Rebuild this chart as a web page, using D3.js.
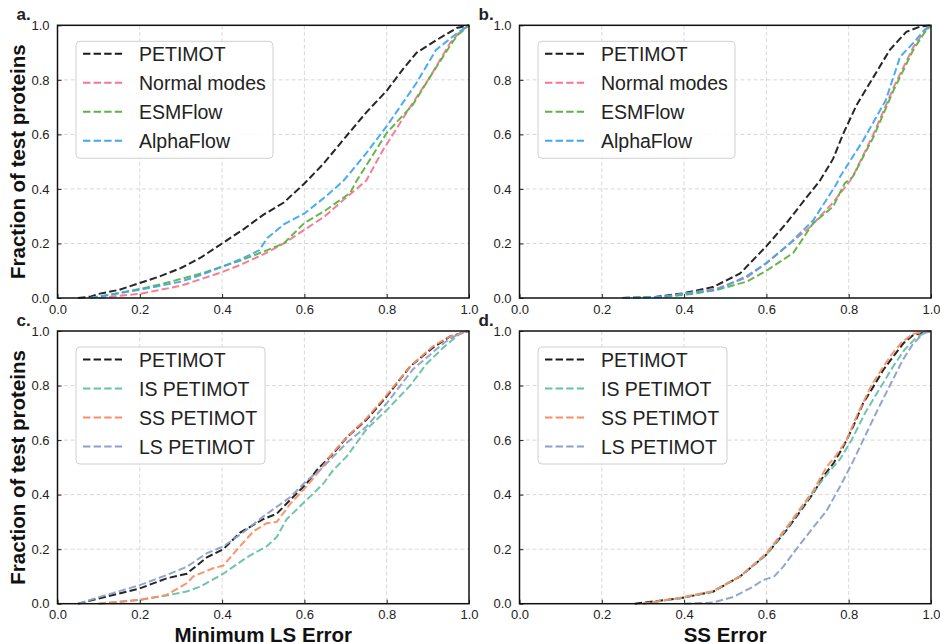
<!DOCTYPE html>
<html>
<head>
<meta charset="utf-8">
<script src="https://cdn.jsdelivr.net/npm/d3@7"></script>
<style>
  body { margin: 0; background: #fff; }
  svg { font-family: "Liberation Sans", Arial, sans-serif; }
</style>
</head>
<body>
<svg id="chart" width="940" height="642"></svg>
<script>
// cumulative curves: [error, fraction]
var petimotA = [[0.05,0],[0.08,0.005],[0.1,0.015],[0.15,0.03],[0.2,0.055],[0.25,0.08],[0.3,0.11],[0.35,0.15],[0.4,0.2],[0.45,0.25],[0.5,0.305],[0.55,0.35],[0.6,0.42],[0.645,0.49],[0.7,0.59],[0.75,0.68],[0.8,0.76],[0.84,0.84],[0.873,0.9],[0.92,0.945],[0.97,0.99],[1.0,1.0]];
var normalA = [[0.1,0],[0.15,0.008],[0.2,0.015],[0.25,0.03],[0.3,0.045],[0.35,0.07],[0.4,0.095],[0.45,0.125],[0.5,0.16],[0.55,0.2],[0.6,0.25],[0.65,0.3],[0.695,0.36],[0.75,0.43],[0.79,0.54],[0.857,0.7],[0.905,0.81],[0.954,0.935],[0.98,0.98],[1.0,1.0]];
var esmA = [[0.08,0],[0.12,0.01],[0.2,0.033],[0.25,0.05],[0.3,0.07],[0.35,0.09],[0.4,0.115],[0.45,0.14],[0.5,0.17],[0.55,0.2],[0.6,0.275],[0.65,0.32],[0.711,0.385],[0.727,0.43],[0.8,0.605],[0.864,0.71],[0.905,0.81],[0.954,0.925],[0.97,0.96],[1.0,1.0]];
var alphaA = [[0.08,0],[0.12,0.01],[0.2,0.03],[0.25,0.045],[0.3,0.06],[0.35,0.085],[0.4,0.115],[0.45,0.145],[0.49,0.175],[0.51,0.22],[0.55,0.27],[0.6,0.31],[0.65,0.37],[0.695,0.43],[0.75,0.53],[0.8,0.63],[0.873,0.79],[0.92,0.91],[0.97,0.97],[1.0,1.0]];

var petimotB = [[0.25,0],[0.33,0.004],[0.397,0.017],[0.47,0.04],[0.536,0.09],[0.6,0.19],[0.649,0.275],[0.698,0.37],[0.73,0.43],[0.762,0.51],[0.786,0.6],[0.82,0.71],[0.86,0.81],[0.9,0.91],[0.94,0.976],[0.973,0.995],[1.0,1.0]];
var normalB = [[0.25,0],[0.35,0.005],[0.42,0.02],[0.48,0.035],[0.552,0.075],[0.6,0.128],[0.649,0.19],[0.706,0.26],[0.762,0.35],[0.803,0.43],[0.81,0.445],[0.86,0.6],[0.91,0.775],[0.957,0.92],[0.985,0.98],[1.0,1.0]];
var esmB = [[0.25,0],[0.35,0.004],[0.42,0.015],[0.48,0.03],[0.552,0.06],[0.6,0.1],[0.665,0.165],[0.714,0.275],[0.762,0.335],[0.79,0.42],[0.81,0.445],[0.86,0.59],[0.91,0.765],[0.957,0.91],[0.985,0.975],[1.0,1.0]];
var alphaB = [[0.25,0],[0.35,0.005],[0.42,0.02],[0.48,0.03],[0.552,0.08],[0.6,0.128],[0.657,0.2],[0.714,0.285],[0.771,0.42],[0.779,0.445],[0.836,0.58],[0.89,0.725],[0.925,0.885],[0.957,0.935],[0.985,0.985],[1.0,1.0]];

var petimotC = [[0.05,0],[0.103,0.02],[0.2,0.056],[0.265,0.093],[0.314,0.11],[0.363,0.17],[0.403,0.2],[0.443,0.26],[0.5,0.31],[0.533,0.33],[0.565,0.38],[0.605,0.44],[0.63,0.49],[0.67,0.55],[0.703,0.61],[0.751,0.675],[0.8,0.76],[0.857,0.87],[0.913,0.94],[0.954,0.98],[1.0,1.0]];
var isC = [[0.1,0],[0.2,0.014],[0.265,0.03],[0.314,0.045],[0.346,0.062],[0.403,0.11],[0.46,0.17],[0.508,0.21],[0.533,0.245],[0.557,0.31],[0.605,0.38],[0.646,0.44],[0.67,0.49],[0.703,0.54],[0.751,0.64],[0.8,0.71],[0.857,0.8],[0.897,0.88],[0.938,0.94],[0.978,0.99],[1.0,1.0]];
var ssC = [[0.1,0],[0.2,0.014],[0.265,0.032],[0.314,0.075],[0.33,0.1],[0.378,0.13],[0.403,0.14],[0.443,0.21],[0.476,0.265],[0.508,0.295],[0.533,0.3],[0.565,0.365],[0.605,0.43],[0.638,0.49],[0.67,0.555],[0.703,0.61],[0.751,0.68],[0.8,0.765],[0.857,0.87],[0.913,0.945],[0.954,0.98],[1.0,1.0]];
var lsC = [[0.05,0],[0.103,0.025],[0.2,0.068],[0.265,0.105],[0.314,0.135],[0.363,0.185],[0.403,0.21],[0.45,0.26],[0.5,0.32],[0.565,0.39],[0.605,0.45],[0.638,0.49],[0.703,0.59],[0.751,0.65],[0.8,0.735],[0.864,0.86],[0.938,0.955],[0.98,0.995],[1.0,1.0]];

var petimotD = [[0.28,0],[0.39,0.02],[0.47,0.044],[0.536,0.1],[0.6,0.18],[0.649,0.27],[0.69,0.355],[0.714,0.405],[0.738,0.466],[0.763,0.515],[0.787,0.576],[0.811,0.65],[0.835,0.735],[0.86,0.796],[0.884,0.857],[0.908,0.906],[0.933,0.955],[0.957,0.985],[1.0,1.0]];
var isD = [[0.3,0],[0.39,0.02],[0.47,0.045],[0.536,0.1],[0.6,0.18],[0.649,0.275],[0.69,0.36],[0.714,0.41],[0.75,0.48],[0.779,0.53],[0.807,0.6],[0.84,0.7],[0.88,0.8],[0.908,0.87],[0.935,0.93],[0.96,0.97],[0.985,0.995],[1.0,1.0]];
var ssD = [[0.3,0],[0.39,0.022],[0.47,0.046],[0.536,0.1],[0.6,0.185],[0.649,0.28],[0.69,0.365],[0.714,0.415],[0.746,0.5],[0.77,0.545],[0.795,0.6],[0.82,0.69],[0.855,0.8],[0.88,0.86],[0.905,0.915],[0.93,0.96],[0.957,0.99],[1.0,1.0]];
var lsD = [[0.4,0],[0.47,0.004],[0.52,0.025],[0.565,0.06],[0.592,0.087],[0.619,0.1],[0.641,0.136],[0.665,0.185],[0.69,0.234],[0.714,0.28],[0.746,0.34],[0.779,0.43],[0.81,0.52],[0.835,0.6],[0.87,0.71],[0.9,0.8],[0.93,0.89],[0.955,0.95],[0.98,0.99],[1.0,1.0]];

var namesTop = ["PETIMOT", "Normal modes", "ESMFlow", "AlphaFlow"];
var colorsTop = ["#1a1a1a", "#f4778f", "#5cb343", "#41a8ee"];
var namesBottom = ["PETIMOT", "IS PETIMOT", "SS PETIMOT", "LS PETIMOT"];
var colorsBottom = ["#1a1a1a", "#66c2a5", "#fc8d62", "#8da0cb"];
var tickValues = [0, 0.2, 0.4, 0.6, 0.8, 1.0];

var panels = [
  { label: "a.", left: 57.5, top: 25.3, series: [petimotA, normalA, esmA, alphaA], names: namesTop, colors: colorsTop, legendW: 197 },
  { label: "b.", left: 519.5, top: 25.3, series: [petimotB, normalB, esmB, alphaB], names: namesTop, colors: colorsTop, legendW: 197 },
  { label: "c.", left: 57.5, top: 331, series: [petimotC, isC, ssC, lsC], names: namesBottom, colors: colorsBottom, legendW: 189 },
  { label: "d.", left: 519.5, top: 331, series: [petimotD, isD, ssD, lsD], names: namesBottom, colors: colorsBottom, legendW: 189 }
];
var W = 411.5, H = 272.7;

var svg = d3.select("#chart");

panels.forEach(function (p) {
  var x = d3.scaleLinear().domain([0, 1]).range([0, W]);
  var y = d3.scaleLinear().domain([0, 1]).range([H, 0]);
  var g = svg.append("g").attr("transform", "translate(" + p.left + "," + p.top + ")");

  // grid
  g.selectAll(".gx").data(tickValues.slice(1, -1)).enter().append("line")
    .attr("x1", x).attr("x2", x).attr("y1", 0).attr("y2", H)
    .attr("stroke", "#d4d4d4").attr("stroke-width", 0.9).attr("stroke-dasharray", "4,2.5");
  g.selectAll(".gy").data(tickValues.slice(1, -1)).enter().append("line")
    .attr("y1", y).attr("y2", y).attr("x1", 0).attr("x2", W)
    .attr("stroke", "#d4d4d4").attr("stroke-width", 0.9).attr("stroke-dasharray", "4,2.5");

  // axes, ticks pointing in
  var xa = g.append("g").attr("transform", "translate(0," + H + ")")
    .call(d3.axisBottom(x).tickValues(tickValues).tickFormat(d3.format(".1f")).tickSizeInner(-4).tickSizeOuter(0).tickPadding(8));
  var ya = g.append("g")
    .call(d3.axisLeft(y).tickValues(tickValues).tickFormat(d3.format(".1f")).tickSizeInner(-4).tickSizeOuter(0).tickPadding(8));
  [xa, ya].forEach(function (a) {
    a.select(".domain").remove();
    a.selectAll("text").attr("font-size", 13).attr("fill", "#222").attr("font-family", "Liberation Sans, Arial, sans-serif");
    a.selectAll("line").attr("stroke", "#222");
  });
  xa.selectAll("text").attr("dy", "0.6em");

  // curves
  var line = d3.line().x(function (d) { return x(d[0]); }).y(function (d) { return y(d[1]); });
  p.series.forEach(function (s, i) {
    g.append("path").datum(s).attr("d", line)
      .attr("fill", "none").attr("stroke", p.colors[i]).attr("stroke-width", 2)
      .attr("stroke-dasharray", "7.4,3.2").attr("opacity", 0.95);
  });

  // frame
  g.append("rect").attr("width", W).attr("height", H)
    .attr("fill", "none").attr("stroke", "#111").attr("stroke-width", 1.5);

  // legend
  var lg = g.append("g").attr("transform", "translate(18.5,16)");
  lg.append("rect").attr("width", p.legendW).attr("height", 117).attr("rx", 4)
    .attr("fill", "rgba(255,255,255,0.85)").attr("stroke", "#d0d0d0").attr("stroke-width", 1);
  p.names.forEach(function (n, i) {
    var yy = 12.5 + i * 29;
    lg.append("line").attr("x1", 7).attr("x2", 46).attr("y1", yy).attr("y2", yy)
      .attr("stroke", p.colors[i]).attr("stroke-width", 2).attr("stroke-dasharray", "7.4,3.2");
    lg.append("text").attr("x", 63).attr("y", yy + 7).attr("font-size", 19.5).attr("fill", "#222").text(n);
  });

  // panel label
  svg.append("text").attr("x", p.left - 41).attr("y", p.top - 5)
    .attr("font-size", 17).attr("font-weight", "bold").attr("fill", "#222").text(p.label);
});

// shared axis titles
[25.3 + H / 2, 331 + H / 2].forEach(function (cy) {
  svg.append("text").attr("transform", "translate(25," + cy + ") rotate(-90)")
    .attr("text-anchor", "middle").attr("font-size", 20.5).attr("font-weight", "bold").attr("fill", "#111")
    .text("Fraction of test proteins");
});
svg.append("text").attr("x", 57.5 + W / 2).attr("y", 642).attr("text-anchor", "middle")
  .attr("font-size", 20.5).attr("font-weight", "bold").attr("fill", "#111").text("Minimum LS Error");
svg.append("text").attr("x", 519.5 + W / 2).attr("y", 642).attr("text-anchor", "middle")
  .attr("font-size", 20.5).attr("font-weight", "bold").attr("fill", "#111").text("SS Error");
</script>
</body>
</html>
